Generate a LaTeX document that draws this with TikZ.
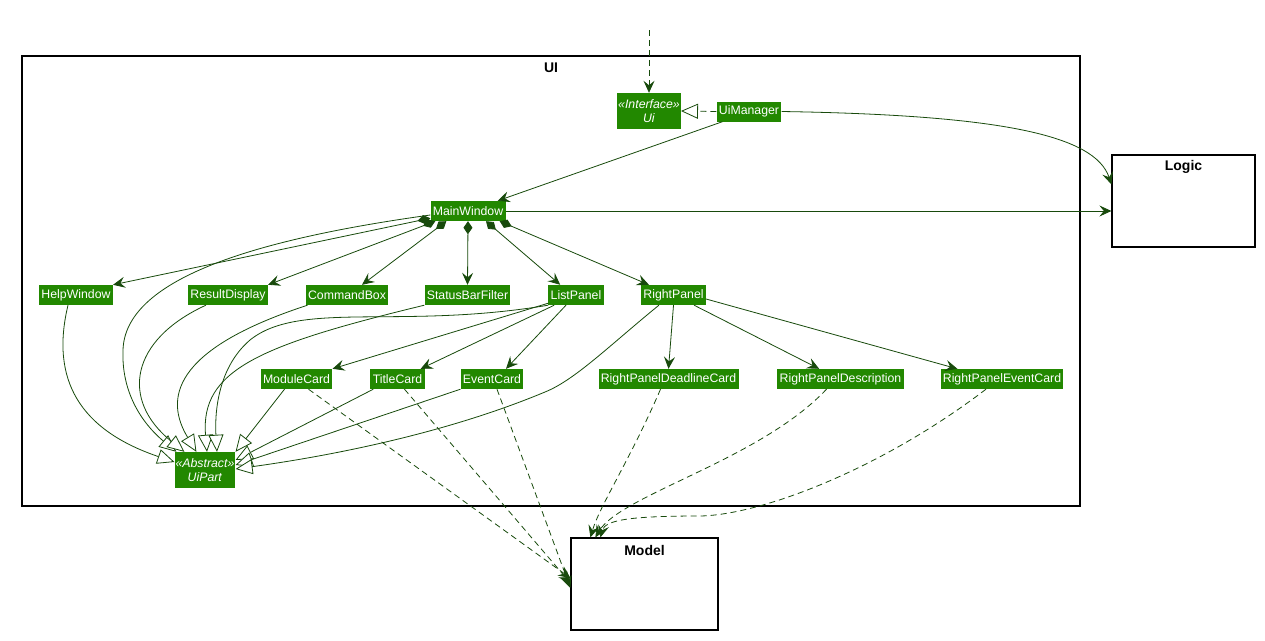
\documentclass[tikz,border=0pt]{standalone}
\usepackage{fontspec}
\setmainfont{Liberation Sans}
\usetikzlibrary{arrows.meta,calc}
\definecolor{clsfill}{RGB}{34,136,0}
\definecolor{edgec}{RGB}{24,74,12}
\begin{document}
\begin{tikzpicture}[x=1pt,y=-1pt,
  cls/.style={fill=clsfill, text=white, font=\fontsize{12.3}{14}\selectfont, inner xsep=2.3pt, inner ysep=1pt, minimum height=20pt},
  cls2/.style={cls, inner xsep=1pt, minimum height=36pt, align=center},
  pkg/.style={draw=black, line width=1.2pt},
  pkglbl/.style={font=\bfseries\fontsize{14}{16}\selectfont},
  conn/.style={draw=edgec, line width=0.8pt},
  arr/.style={conn, -{Stealth[length=12pt,width=11pt,inset=4.5pt]}},
  inh/.style={conn, -{Triangle[length=17pt,width=15pt,fill=white]}},
  comp/.style={conn, {Diamond[length=13pt,width=9pt]}-{Stealth[length=12pt,width=11pt,inset=4.5pt]}},
  dep/.style={arr, dash pattern=on 6pt off 4pt},
  real/.style={inh, dash pattern=on 6pt off 4pt}
]
\useasboundingbox (0,0) rectangle (1265,640);
\fill[white] (0,0) rectangle (1265,640);

% packages
\node[pkg, minimum width=1058pt, minimum height=450pt] (UIpkg) at (551,281) {};
\node[pkglbl] (UIlbl) at (551,68) {UI};
\node[pkg, minimum width=143pt, minimum height=92pt] (Logic) at (1183.5,201) {};
\node[pkglbl] (Logiclbl) at (1183.5,167) {Logic};
\node[pkg, minimum width=147pt, minimum height=92pt] (Model) at (644.5,584) {};
\node[pkglbl] (Modellbl) at (644.5,550) {Model};

% classes
\node[cls2] (Ui) at (649,111) {\textit{«Interface»}\\\textit{Ui}};
\node[cls] (UiManager) at (749,111.5) {UiManager};
\node[cls] (MainWindow) at (468,211) {MainWindow};
\node[cls] (HelpWindow) at (76,295) {HelpWindow};
\node[cls] (ResultDisplay) at (228,295) {ResultDisplay};
\node[cls] (CommandBox) at (347,295) {CommandBox};
\node[cls] (StatusBarFilter) at (467.5,295) {StatusBarFilter};
\node[cls] (ListPanel) at (576,295) {ListPanel};
\node[cls] (RightPanel) at (673.5,295) {RightPanel};
\node[cls] (ModuleCard) at (296.5,379) {ModuleCard};
\node[cls] (TitleCard) at (397.5,379) {TitleCard};
\node[cls] (EventCard) at (492,379) {EventCard};
\node[cls] (RPDeadline) at (668.5,379) {RightPanelDeadlineCard};
\node[cls] (RPDescription) at (840.5,379) {RightPanelDescription};
\node[cls] (RPEventCard) at (1002,379) {RightPanelEventCard};
\node[cls2] (UiPart) at (205,470) {\textit{«Abstract»}\\\textit{UiPart}};

\coordinate (top) at (649,30);

% top part
\draw[dep] (top) -- (Ui.north);
\draw[real] (UiManager.west) -- (Ui.east);
\draw[arr] ($(UiManager.south west)+(6,0)$) -- ($(MainWindow.north east)+(-8,0)$);
\draw[arr] (UiManager.east) .. controls (1000,115) and (1095,135) .. ($(Logic.north west)+(0,30)$);
\draw[arr] (MainWindow.east) -- (MainWindow.east -| Logic.west);

% compositions
\draw[comp] ($(MainWindow.south west)+(0,-3)$) -- (HelpWindow.north east);
\draw[comp] ($(MainWindow.south west)+(5,0)$) -- (ResultDisplay.north east);
\draw[comp] ($(MainWindow.south west)+(16,0)$) -- ($(CommandBox.north)+(15,0)$);
\draw[comp] (MainWindow.south) -- (StatusBarFilter.north);
\draw[comp] ($(MainWindow.south)+(18,0)$) -- ($(ListPanel.north west)+(12,0)$);
\draw[comp] ($(MainWindow.south east)+(-6,0)$) -- ($(RightPanel.north west)+(8,0)$);

% inheritance to UiPart
\draw[inh] ($(MainWindow.west)+(0,4)$) .. controls (250,240) and (125,280) .. (123,350) .. controls (121,400) and (150,430) .. ($(UiPart.north west)+(2,0)$);
\draw[inh] ($(HelpWindow.south)+(-8,0)$) .. controls (50,380) and (80,430) .. ($(UiPart.west)+(0,-8)$);
\draw[inh] ($(ResultDisplay.south west)+(18,0)$) .. controls (130,340) and (120,400) .. ($(UiPart.north west)+(10,0)$);
\draw[inh] ($(CommandBox.south west)+(2,0)$) .. controls (170,350) and (165,400) .. ($(UiPart.north west)+(22,0)$);
\draw[inh] (StatusBarFilter.south west) .. controls (260,345) and (200,370) .. ($(UiPart.north)+(2,0)$);
\draw[inh] (ListPanel.south west) .. controls (400,330) and (300,300) .. (250,340) .. controls (215,370) and (215,420) .. ($(UiPart.north)+(12,0)$);
\draw[inh] ($(ModuleCard.south west)+(24,0)$) -- (UiPart.north east);
\draw[inh] ($(TitleCard.south west)+(3,0)$) -- ($(UiPart.east)+(0,-10)$);
\draw[inh] (EventCard.south west) -- ($(UiPart.east)+(0,-5)$);
\draw[inh] ($(RightPanel.south west)+(18,0)$) .. controls (610,345) and (575,380) .. (545,392) .. controls (430,440) and (300,460) .. ($(UiPart.east)+(0,-1)$);

% ListPanel / RightPanel associations
\draw[arr] ($(ListPanel.south west)+(0,-2)$) -- (ModuleCard.north east);
\draw[arr] ($(ListPanel.south west)+(6,0)$) -- ($(TitleCard.north east)+(-4,0)$);
\draw[arr] ($(ListPanel.south)+(-10,0)$) -- ($(EventCard.north)+(14,0)$);
\draw[arr] (RightPanel.south) -- (RPDeadline.north);
\draw[arr] ($(RightPanel.south east)+(-12,0)$) -- ($(RPDescription.north west)+(42,0)$);
\draw[arr] ($(RightPanel.east)+(0,4)$) -- ($(RPEventCard.north west)+(17,0)$);

% dependencies to Model
\draw[dep] ($(ModuleCard.south)+(12,0)$) -- ($(Model.west)+(0,-6)$);
\draw[dep] ($(TitleCard.south)+(7,0)$) -- ($(Model.west)+(0,-1)$);
\draw[dep] ($(EventCard.south)+(5,0)$) -- ($(Model.west)+(0,4)$);
\draw[dep] ($(RPDeadline.south)+(-8,0)$) .. controls (630,460) and (600,505) .. ($(Model.north west)+(20,0)$);
\draw[dep] ($(RPDescription.south)+(-14,0)$) .. controls (760,460) and (620,495) .. ($(Model.north west)+(25,0)$);
\draw[dep] ($(RPEventCard.south)+(-16,0)$) .. controls (880,470) and (760,515) .. (700,516) .. controls (630,516) and (605,520) .. ($(Model.north west)+(30,0)$);
\end{tikzpicture}
\end{document}
